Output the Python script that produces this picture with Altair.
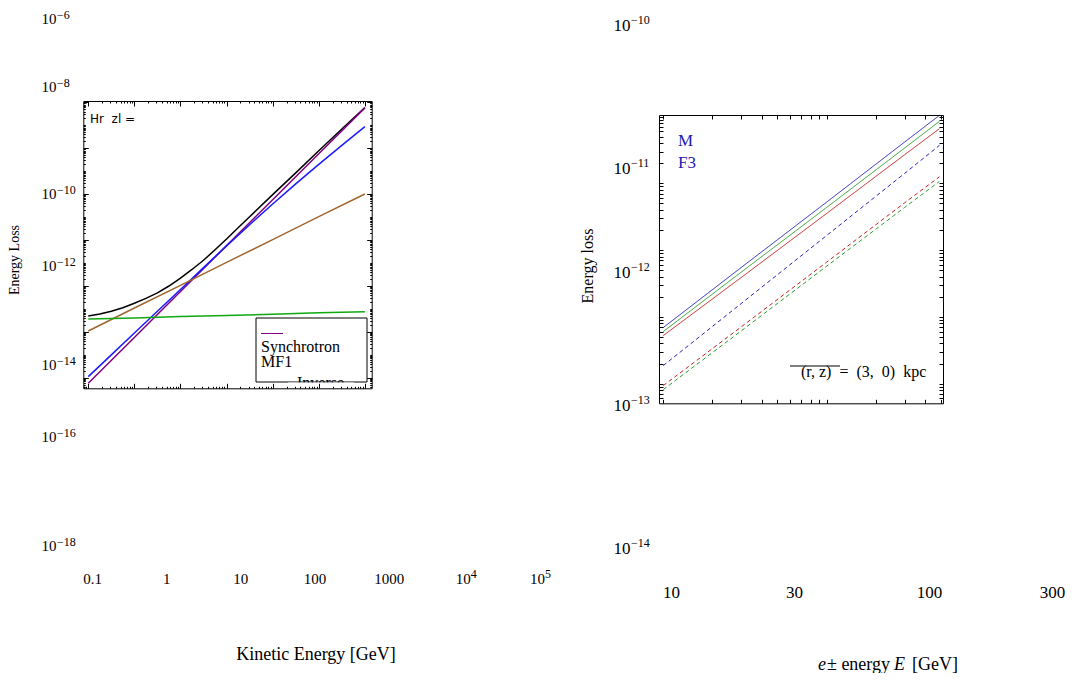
import altair as alt
import pandas as pd

SERIF = "Liberation Serif"

# ---------------- left panel: values (log10) ----------------
total_logE = [-1.0, -0.75, -0.5, -0.25, 0.0, 0.25, 0.5, 0.75, 1.0, 1.25, 1.5, 1.75, 2.0, 2.25, 2.5,
              3.0, 3.5, 4.0, 4.5, 5.0]
total_log = [-15.31, -15.22, -15.10, -14.95, -14.75, -14.54, -14.30, -14.00, -13.66, -13.28, -12.88,
             -12.42, -11.95, -11.46, -10.98, -10.02, -9.07, -8.11, -7.16, -6.23]
ic_logE = [-1.0, -0.5, 0.0, 0.5, 1.0, 1.5, 2.0, 2.5, 3.0, 3.5, 4.0, 4.5, 5.0]
ic_log = [-17.95, -17.00, -16.05, -15.10, -14.15, -13.20, -12.25, -11.33, -10.43, -9.55, -8.70, -7.87, -7.06]
left_logE = [-1.0, 0.0, 1.0, 2.0, 3.0, 4.0, 5.0]
sync_log = [-18.24, -16.24, -14.24, -12.24, -10.24, -8.24, -6.24]
brems_log = [-15.96, -14.96, -13.97, -12.97, -11.98, -10.98, -9.99]
coul_log = [-15.44, -15.39, -15.33, -15.28, -15.23, -15.17, -15.12]
left_names = ["Total", "Synchrotron MF1", "Inverse Compton", "Bremsstrahlung", "Coulomb + ionization"]
left_colors = ["#000000", "#800080", "#1a1aff", "#a0672e", "#10a810"]
left_xlabels = ["0.1", "1", "10", "100", "1000", "10⁴", "10⁵"]
left_yexp = [-6, -8, -10, -12, -14, -16, -18]

# ---------------- right panel: values (log10) ----------------
right_E = [10, 30, 100, 300, 490]
blue_solid = [-13.16, -12.26, -11.28, -10.38, -9.98]
green_solid = [-13.22, -12.33, -11.36, -10.47, -10.07]
red_solid = [-13.28, -12.41, -11.45, -10.57, -10.18]
blue_dashed = [-13.73, -12.80, -11.78, -10.85, -10.43]
red_dashed = [-14.03, -13.15, -12.18, -11.29, -10.90]
green_dashed = [-14.09, -13.21, -12.24, -11.36, -10.97]
right_models = ["blue", "green", "red"]
right_colors = ["#2424c0", "#2aa02a", "#c82020"]
right_xlabels = [10, 30, 100, 300]
right_yexp = [-10, -11, -12, -13, -14]

# ---------------- tables ----------------
rows = []
for name, xs, ys in [("Total", total_logE, total_log),
                     ("Synchrotron MF1", left_logE, sync_log),
                     ("Inverse Compton", ic_logE, ic_log),
                     ("Bremsstrahlung", left_logE, brems_log),
                     ("Coulomb + ionization", left_logE, coul_log)]:
    for a, b in zip(xs, ys):
        rows.append({"series": name, "E": 10 ** a, "L": 10 ** b})
left_df = pd.DataFrame(rows)

rows = []
for model, part, ys in [("blue", "solid", blue_solid), ("green", "solid", green_solid),
                        ("red", "solid", red_solid), ("blue", "dashed", blue_dashed),
                        ("red", "dashed", red_dashed), ("green", "dashed", green_dashed)]:
    for e, v in zip(right_E, ys):
        rows.append({"series": model + " " + part, "model": model, "part": part, "E": e, "L": 10 ** v})
right_df = pd.DataFrame(rows)

# ---------------- layout (pixels in the view) ----------------
W, H = 1060, 665
LFX = [75.3, 363.7]
LFY = [380.3, 93.0]
RFX = [651.0, 935.0]
RFY = [395.3, 107.0]

lx_scale = alt.Scale(type="log", domain=[10 ** -1.108, 10 ** 5.148], range=LFX, nice=False)
ly_scale = alt.Scale(type="log", domain=[10 ** -18.457, 10 ** -5.94], range=LFY, nice=False)
rx_scale = alt.Scale(type="log", domain=[9.42, 515], range=RFX, nice=False)
ry_scale = alt.Scale(type="log", domain=[10 ** -14.295, 10 ** -9.975], range=RFY, nice=False)


def inside(vals, dom):
    return [v for v in vals if dom[0] * 0.999 <= v <= dom[1] * 1.001]


lx_major = [0.1, 1, 10, 100, 1000, 1e4, 1e5]
lx_minor = inside([k * 10.0 ** j for j in range(-2, 6) for k in range(2, 10)], lx_scale.domain)
ly_major = [10.0 ** e for e in range(-18, -5, 2)]
ly_minor = inside([k * 10.0 ** j for j in range(-19, -5) for k in range(1, 10)
                   if not (k == 1 and j % 2 == 0)], ly_scale.domain)
rx_ticks = inside([k * 10.0 ** j for j in (0, 1, 2) for k in range(1, 10)], rx_scale.domain)
ry_ticks = inside([k * 10.0 ** j for j in range(-15, -9) for k in range(1, 10)], ry_scale.domain)


def frame_axis(orient, offset, values, size, domain=True):
    return alt.Axis(orient=orient, offset=offset, values=values, labels=False, ticks=True,
                    tickSize=size, tickColor="black", tickWidth=1, domain=domain,
                    domainColor="black", domainWidth=1, grid=False, title=None, zindex=1)


def label_axis(orient, offset, **kw):
    base = dict(orient=orient, offset=offset, labelPadding=0, ticks=False, tickSize=0,
                domain=False, grid=False, title=None, labelOverlap=False, labelFont=SERIF,
                labelColor="black")
    base.update(kw)
    return alt.Axis(**base)


def exp_expr(exps):
    return " : ".join(f"datum.value == {e} ? '\u2212{abs(e)}'" for e in exps) + " : ''"


# ---------------- left panel layers ----------------
left_lines = alt.Chart(left_df).mark_line(strokeWidth=1.5).encode(
    x=alt.X("E:Q", scale=lx_scale, axis=frame_axis("top", -LFY[0], lx_major, 5)),
    y=alt.Y("L:Q", scale=ly_scale, axis=frame_axis("right", LFX[0] - W, ly_major, 5)),
    color=alt.Color("series:N", scale=alt.Scale(domain=left_names, range=left_colors), legend=None),
    detail="series:N",
)
left_frame2 = alt.Chart(left_df).mark_point(opacity=0).encode(
    x=alt.X("E:Q", scale=lx_scale, axis=frame_axis("bottom", LFY[1] - H, lx_major, 5)),
    y=alt.Y("L:Q", scale=ly_scale, axis=frame_axis("left", -LFX[1], ly_major, 5)),
)
left_minor1 = alt.Chart(left_df).mark_point(opacity=0).encode(
    x=alt.X("E:Q", scale=lx_scale, axis=frame_axis("top", -LFY[0], lx_minor, 2, False)),
    y=alt.Y("L:Q", scale=ly_scale, axis=frame_axis("right", LFX[0] - W, ly_minor, 2, False)),
)
left_minor2 = alt.Chart(left_df).mark_point(opacity=0).encode(
    x=alt.X("E:Q", scale=lx_scale, axis=frame_axis("bottom", LFY[1] - H, lx_minor, 2, False)),
    y=alt.Y("L:Q", scale=ly_scale, axis=frame_axis("left", -LFX[1], ly_minor, 2, False)),
)

lxlab_scale = alt.Scale(type="point", domain=left_xlabels, range=[84, 529], padding=0)
sup_x = "datum.label == '10⁴' || datum.label == '10⁵'"
left_outer_x = alt.Chart(pd.DataFrame({"lab": left_xlabels})).mark_point(opacity=0).encode(
    x=alt.X("lab:N", sort=None, scale=lxlab_scale,
            axis=label_axis("bottom", 570 - H, labelAngle=0, labelBaseline="middle",
                            labelFontSize=15,
                            labelExpr=f"{sup_x} ? '10' : datum.label")),
)
left_outer_x_exp = alt.Chart(pd.DataFrame({"lab": left_xlabels})).mark_point(opacity=0).encode(
    x=alt.X("lab:N", sort=None, scale=lxlab_scale,
            axis=label_axis("bottom", 565 - H, labelAngle=0, labelBaseline="middle",
                            labelAlign="left", labelOffset=7.5, labelFontSize=12,
                            labelExpr="datum.label == '10⁴' ? '4' : datum.label == '10⁵' ? '5' : ''")),
)

left_ypx = {-6: 10, -8: 78, -10: 185, -12: 257, -14: 356, -16: 428, -18: 537}
lylab_scale = alt.Scale(type="linear", domain=sorted(left_yexp),
                        range=[left_ypx[e] for e in sorted(left_yexp)], nice=False, zero=False)
left_outer_y = alt.Chart(pd.DataFrame({"e": left_yexp})).mark_point(opacity=0).encode(
    y=alt.Y("e:Q", scale=lylab_scale,
            axis=label_axis("left", -48, values=left_yexp, labelExpr="'10'", labelFontSize=15)),
)
left_outer_y_exp = alt.Chart(pd.DataFrame({"e": left_yexp})).mark_point(opacity=0).encode(
    y=alt.Y("e:Q", scale=lylab_scale,
            axis=label_axis("left", -48.5, values=left_yexp, labelExpr=exp_expr(left_yexp),
                            labelAlign="left", labelOffset=-4, labelFontSize=12)),
)

# ---------------- right panel layers ----------------
right_lines = alt.Chart(right_df).mark_line(strokeWidth=1.0).encode(
    x=alt.X("E:Q", scale=rx_scale, axis=frame_axis("top", -RFY[0], rx_ticks, 4)),
    y=alt.Y("L:Q", scale=ry_scale, axis=frame_axis("right", RFX[0] - W, ry_ticks, 4)),
    color=alt.Color("model:N", scale=alt.Scale(domain=right_models, range=right_colors), legend=None),
    strokeDash=alt.StrokeDash("part:N", scale=alt.Scale(domain=["solid", "dashed"],
                                                         range=[[1, 0], [4, 3]]), legend=None),
    detail="series:N",
)
right_frame2 = alt.Chart(right_df).mark_point(opacity=0).encode(
    x=alt.X("E:Q", scale=rx_scale, axis=frame_axis("bottom", RFY[1] - H, rx_ticks, 4)),
    y=alt.Y("L:Q", scale=ry_scale, axis=frame_axis("left", -RFX[1], ry_ticks, 4)),
)
right_outer_x = alt.Chart(pd.DataFrame({"E": right_xlabels})).mark_point(opacity=0).encode(
    x=alt.X("E:Q", scale=alt.Scale(type="log", domain=[10, 300], range=[663, 1044], nice=False),
            axis=label_axis("bottom", 584 - H, values=right_xlabels, format="d",
                            labelBaseline="middle", labelFlush=False, labelFontSize=17)),
)
right_ypx = {-10: 17, -11: 160, -12: 264, -13: 397, -14: 540}
rylab_scale = alt.Scale(type="linear", domain=sorted(right_yexp),
                        range=[right_ypx[e] for e in sorted(right_yexp)], nice=False, zero=False)
right_outer_y = alt.Chart(pd.DataFrame({"e": right_yexp})).mark_point(opacity=0).encode(
    y=alt.Y("e:Q", scale=rylab_scale,
            axis=label_axis("left", -622, values=right_yexp, labelExpr="'10'", labelFontSize=17)),
)
right_outer_y_exp = alt.Chart(pd.DataFrame({"e": right_yexp})).mark_point(opacity=0).encode(
    y=alt.Y("e:Q", scale=rylab_scale,
            axis=label_axis("left", -622.5, values=right_yexp, labelExpr=exp_expr(right_yexp),
                            labelAlign="left", labelOffset=-6, labelFontSize=12)),
)

# ---------------- annotations ----------------
one = pd.DataFrame({"k": [0]})


def text(t, x, y, size=14, color="black", angle=0, align="left", baseline="middle", font=SERIF,
         style="normal"):
    return alt.Chart(one).mark_text(text=t, fontSize=size, color=color, angle=angle, align=align,
                                    baseline=baseline, font=font, fontStyle=style).encode(
        x=alt.value(x), y=alt.value(y))


NB = "\u00a0"
legend_box = alt.Chart(one).mark_rect(fill="white", stroke="black", strokeWidth=1).encode(
    x=alt.value(248), x2=alt.value(359), y=alt.value(310), y2=alt.value(374))
legend_swatch = alt.Chart(one).mark_rule(color="#800080", strokeWidth=1).encode(
    x=alt.value(253), x2=alt.value(275), y=alt.value(325.5))
legend_cut = alt.Chart(one).mark_rect(fill="white", strokeWidth=0).encode(
    x=alt.value(280), x2=alt.value(346), y=alt.value(374.6), y2=alt.value(392))
overline = alt.Chart(one).mark_rule(color="black", strokeWidth=1).encode(
    x=alt.value(782), x2=alt.value(832), y=alt.value(358))

annotations = [
    legend_box,
    legend_swatch,
    text("Synchrotron", 253, 344, size=16, baseline="alphabetic"),
    text("MF1", 253, 358.5, size=16, baseline="alphabetic"),
    text("Inverse", 289, 380, size=16, baseline="alphabetic"),
    legend_cut,
    text(f"Hr{NB}{NB}zl{NB}=", 82, 111, size=12, font="DejaVu Sans"),
    text("Energy Loss", 7, 252, size=14, angle=270, align="center"),
    text("Kinetic Energy [GeV]", 308, 647, size=18, align="center"),
    text("M", 670, 133, size=17, color="#2020b0"),
    text("F3", 670, 155, size=17, color="#2020b0"),
    text(f"(r,{NB}z){NB}{NB}={NB}{NB}(3,{NB}{NB}0){NB}{NB}kpc", 793, 364, size=16),
    overline,
    text("Energy loss", 580, 258, size=16, angle=270, align="center"),
    text("e", 810, 657, size=18, style="italic"),
    text("± energy", 819, 657, size=18),
    text("E", 886, 657, size=18, style="italic"),
    text("[GeV]", 904, 657, size=18),
]

chart = alt.layer(
    left_lines, left_frame2, left_minor1, left_minor2,
    left_outer_x, left_outer_x_exp, left_outer_y, left_outer_y_exp,
    right_lines, right_frame2, right_outer_x, right_outer_y, right_outer_y_exp,
    *annotations,
).resolve_scale(
    x="independent", y="independent", color="independent", strokeDash="independent"
).resolve_axis(
    x="independent", y="independent"
).properties(
    width=W, height=H, autosize=alt.AutoSizeParams(type="none"), padding=0
).configure_view(stroke=None)

chart.save("out.html", embed_options={"renderer": "svg", "actions": False})
